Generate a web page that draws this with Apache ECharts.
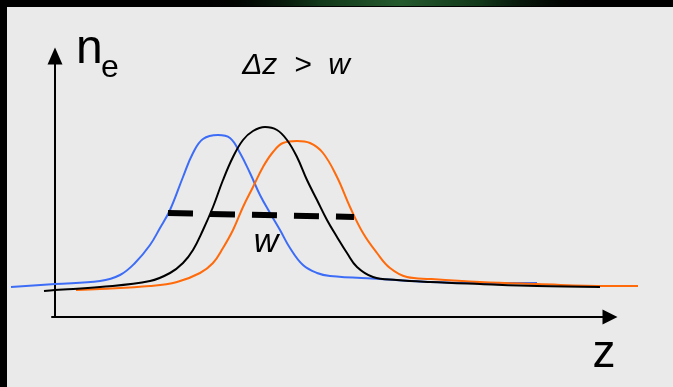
<!DOCTYPE html>
<html>
<head>
<meta charset="utf-8">
<script src="https://cdn.jsdelivr.net/npm/echarts@6/dist/echarts.min.js"></script>
<style>
  html, body { margin: 0; padding: 0; background: #000; }
  #chart { width: 673px; height: 387px; }
</style>
</head>
<body>
<div id="chart"></div>
<script>
// Electron density profiles n_e(z) of three shifted pulses (arbitrary units)
const profileBlue = [
  [-44, 30], [0, 33], [45, 36], [65, 42], [80, 54], [95, 72], [105, 89], [115, 107],
  [128, 140], [138, 164], [148, 178], [163, 182], [175, 179], [185, 164], [195, 144],
  [205, 122], [215, 104], [225, 87], [235, 69], [248, 52], [262, 44], [275, 41],
  [325, 38], [375, 35], [425, 34], [482, 34]
];
const profileBlack = [
  [-11, 26], [0, 27], [45, 30], [95, 36], [115, 44], [128, 54], [138, 67], [148, 87],
  [158, 110], [168, 137], [178, 160], [188, 177], [198, 186], [210, 190], [222, 187],
  [232, 177], [242, 160], [252, 137], [262, 117], [272, 97], [282, 80], [292, 64],
  [302, 50], [318, 40], [342, 37], [375, 35], [425, 33], [482, 31], [545, 30]
];
const profileOrange = [
  [21, 27], [45, 28], [95, 31], [122, 35], [145, 44], [158, 54], [168, 69], [178, 87],
  [188, 110], [198, 130], [208, 150], [218, 165], [228, 174], [242, 176], [255, 174],
  [268, 164], [282, 140], [295, 110], [308, 84], [322, 64], [335, 49], [352, 40],
  [375, 38], [425, 35], [482, 33], [552, 31], [583, 31]
];
// Full width w marked across the black pulse
const widthMarker = [[113, 104], [299, 100]];

const labelTitle = 'Δz  >  w';
const labelWidth = 'w';
const labelAxisX = 'z';
const labelAxisY = 'n';
const labelAxisYSub = 'e';

const FONT = 'Arial, "Liberation Sans", sans-serif';

const chart = echarts.init(document.getElementById('chart'));

// Curves live in a wider, axis-less grid with the same scale as the arrow axes,
// so their tails can run past the axis origin and the arrow tip.
function curve(data, color) {
  return {
    type: 'line',
    xAxisIndex: 1,
    yAxisIndex: 1,
    data: data,
    smooth: 0.4,
    showSymbol: false,
    silent: true,
    lineStyle: { color: color, width: 2 },
    z: 3
  };
}

const hiddenAxis = {
  show: false,
  axisLine: { show: false },
  axisTick: { show: false },
  axisLabel: { show: false },
  splitLine: { show: false }
};

chart.setOption({
  backgroundColor: '#000',
  animation: false,
  grid: [
    { left: 52, right: 63, top: 56, bottom: 70 },
    { left: 10, right: 33, top: 56, bottom: 70 }
  ],
  xAxis: [
    {
      type: 'value',
      gridIndex: 0,
      min: -3,
      max: 555,
      axisLine: {
        show: true,
        onZero: true,
        lineStyle: { color: '#000', width: 2 },
        symbol: ['none', 'triangle'],
        symbolSize: [15, 15]
      },
      axisTick: { show: false },
      axisLabel: { show: false },
      splitLine: { show: false }
    },
    Object.assign({ type: 'value', gridIndex: 1, min: -45, max: 585 }, hiddenAxis)
  ],
  yAxis: [
    {
      type: 'value',
      gridIndex: 0,
      min: 0,
      max: 261,
      axisLine: {
        show: true,
        onZero: true,
        lineStyle: { color: '#000', width: 2 },
        symbol: ['none', 'triangle'],
        symbolSize: [15, 17]
      },
      axisTick: { show: false },
      axisLabel: { show: false },
      splitLine: { show: false }
    },
    Object.assign({ type: 'value', gridIndex: 1, min: 0, max: 261 }, hiddenAxis)
  ],
  graphic: [
    { type: 'rect', z: -10, silent: true,
      shape: { x: 7, y: 7, width: 666, height: 380 },
      style: { fill: '#eaeaea' } },
    { type: 'rect', z: -10, silent: true,
      shape: { x: 200, y: 0, width: 400, height: 6 },
      style: { fill: new echarts.graphic.LinearGradient(0, 0, 1, 0, [
        { offset: 0, color: 'rgba(0,0,0,0)' },
        { offset: 0.3, color: '#12381a' },
        { offset: 0.5, color: '#255a2e' },
        { offset: 0.7, color: '#12381a' },
        { offset: 1, color: 'rgba(0,0,0,0)' }
      ]) } },
    { type: 'text', z: 10, silent: true,
      style: { text: labelAxisY, x: 76, y: 50, font: '48px ' + FONT, fill: '#000',
               align: 'left', verticalAlign: 'middle' } },
    { type: 'text', z: 10, silent: true,
      style: { text: labelAxisYSub, x: 101, y: 68, font: '32px ' + FONT, fill: '#000',
               align: 'left', verticalAlign: 'middle' } },
    { type: 'text', z: 10, silent: true,
      style: { text: labelTitle, x: 296, y: 66, font: 'italic 30px ' + FONT, fill: '#000',
               align: 'center', verticalAlign: 'middle' } },
    { type: 'text', z: 10, silent: true,
      style: { text: labelWidth, x: 266, y: 243, font: 'italic 34px ' + FONT, fill: '#000',
               align: 'center', verticalAlign: 'middle' } },
    { type: 'text', z: 10, silent: true,
      style: { text: labelAxisX, x: 604, y: 354, font: '46px ' + FONT, fill: '#000',
               align: 'center', verticalAlign: 'middle' } }
  ],
  series: [
    curve(profileBlue, '#3d6df7'),
    curve(profileOrange, '#ff6a0a'),
    curve(profileBlack, '#000000'),
    {
      type: 'line',
      xAxisIndex: 1,
      yAxisIndex: 1,
      data: widthMarker,
      showSymbol: false,
      silent: true,
      lineStyle: { color: '#000', width: 6, type: [25, 17], cap: 'butt' },
      z: 4
    }
  ]
});
</script>
</body>
</html>
